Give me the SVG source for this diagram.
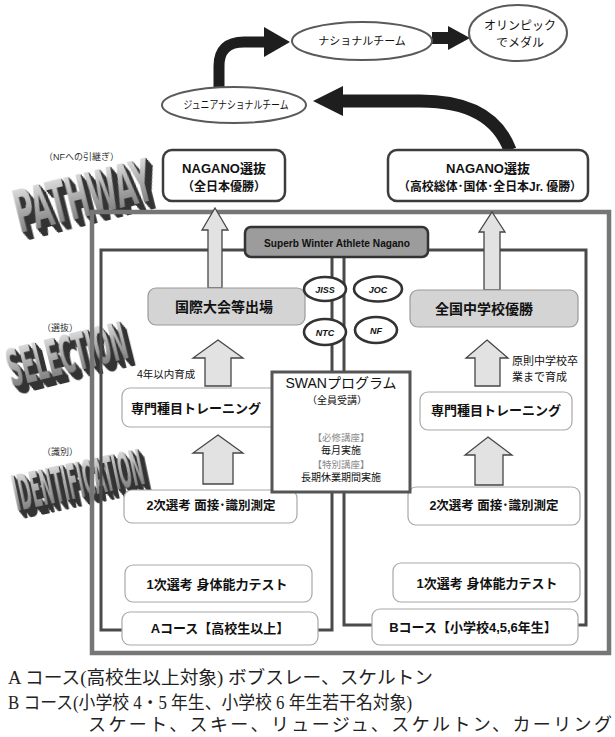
<svg xmlns="http://www.w3.org/2000/svg" width="615" height="737" viewBox="0 0 615 737">
<defs>
<style>
text{font-family:"Liberation Sans","Noto Sans CJK JP",sans-serif;fill:#111}
.c{text-anchor:middle}
.b{font-weight:bold}
.wbox{fill:#fff;stroke:#a8a8a8;stroke-width:1.2}
.gbox{fill:#d4d4d4;stroke:#9a9a9a;stroke-width:1.2}
.nbox{fill:#fff;stroke:#3c3c3c;stroke-width:2.5}
.barrow{fill:#e2e2e2;stroke:#454545;stroke-width:1.3}
.ell{fill:#fff;stroke:#5a5a5a;stroke-width:2}
.org{fill:#fff;stroke:#333;stroke-width:2.6}
.orgt{font-style:italic;font-weight:bold;font-size:9px;text-anchor:middle}
.flow{fill:none;stroke:#1e1e1e}
.frame{fill:none;stroke:#4a4a4a;stroke-width:3}
.wa{fill:url(#metal);filter:url(#extrude);font-family:"Liberation Sans Narrow","DejaVu Sans Condensed","Liberation Sans",sans-serif;font-weight:bold}
.note{font-family:"Liberation Serif","Noto Sans CJK JP",serif;font-size:18px;fill:#222}
.small{font-size:9px;fill:#333}
</style>
<linearGradient id="metal" x1="0" y1="0" x2="0" y2="1">
<stop offset="0" stop-color="#f2f2f2"/>
<stop offset="0.5" stop-color="#a8a8a8"/>
<stop offset="1" stop-color="#6a6a6a"/>
</linearGradient>
<filter id="extrude" x="-10%" y="-20%" width="130%" height="170%" color-interpolation-filters="sRGB">
<feOffset in="SourceAlpha" dx="0.5" dy="1" result="o1"/>
<feOffset in="SourceAlpha" dx="1" dy="2" result="o2"/>
<feOffset in="SourceAlpha" dx="1.5" dy="3" result="o3"/>
<feOffset in="SourceAlpha" dx="2" dy="4" result="o4"/>
<feOffset in="SourceAlpha" dx="2.5" dy="5" result="o5"/>
<feOffset in="SourceAlpha" dx="3" dy="6" result="o6"/>
<feOffset in="SourceAlpha" dx="3.5" dy="7" result="o7"/>
<feOffset in="SourceAlpha" dx="4" dy="8" result="o8"/>
<feOffset in="SourceAlpha" dx="4.5" dy="9" result="o9"/>
<feMerge result="m"><feMergeNode in="o1"/><feMergeNode in="o2"/><feMergeNode in="o3"/><feMergeNode in="o4"/><feMergeNode in="o5"/><feMergeNode in="o6"/><feMergeNode in="o7"/><feMergeNode in="o8"/><feMergeNode in="o9"/></feMerge>
<feFlood flood-color="#333"/>
<feComposite in2="m" operator="in" result="side"/>
<feMerge><feMergeNode in="side"/><feMergeNode in="SourceGraphic"/></feMerge>
</filter>
<marker id="h1" markerUnits="userSpaceOnUse" viewBox="0 0 26 30" markerWidth="26" markerHeight="30" refX="0" refY="15" orient="auto"><path d="M0,0 L26,15 L0,30z" fill="#1e1e1e"/></marker>
<marker id="h2" markerUnits="userSpaceOnUse" viewBox="0 0 22 24" markerWidth="22" markerHeight="24" refX="0" refY="12" orient="auto"><path d="M0,0 L22,12 L0,24z" fill="#1e1e1e"/></marker>
<marker id="h3" markerUnits="userSpaceOnUse" viewBox="0 0 30 30" markerWidth="30" markerHeight="30" refX="0" refY="15" orient="auto"><path d="M0,0 L30,15 L0,30z" fill="#1e1e1e"/></marker>
</defs>
<rect width="615" height="737" fill="#fff"/>

<!-- word art labels -->
<g id="label-pathway">
<text class="small" x="44" y="160">（NFへの引継ぎ）</text>
<text class="wa" font-size="58" textLength="140" lengthAdjust="spacingAndGlyphs" transform="translate(20,233) rotate(-14)">PATHWAY</text>
</g>
<g id="label-selection">
<text class="small" x="42" y="331">（選抜）</text>
<text class="wa" font-size="52" textLength="122" lengthAdjust="spacingAndGlyphs" transform="translate(12,387) rotate(-14)">SELECTION</text>
</g>
<g id="label-identification">
<text class="small" x="42" y="455">（識別）</text>
<text class="wa" font-size="50" textLength="132" lengthAdjust="spacingAndGlyphs" transform="translate(17,511) rotate(-12)">IDENTIFICATION</text>
</g>

<!-- frames -->
<g id="frames">
<rect x="92" y="212" width="517" height="441" fill="none" stroke="#767676" stroke-width="4.5"/>
<path class="frame" d="M245,250 H101 V630 H332 V257"/>
<path class="frame" d="M428,250 H586 V625 H344 V257"/>
</g>

<!-- connectors -->
<g id="connectors">
<path class="flow" stroke-width="11" d="M219,88 V66 Q219,42 244,42 H264" marker-end="url(#h1)"/>
<path class="flow" stroke-width="12" d="M432,38 H448" marker-end="url(#h2)"/>
<path class="flow" stroke-width="13" d="M510,150 C498,118 470,101 420,101 H343" marker-end="url(#h3)"/>
<polygon class="barrow" points="215,208 228,230 222,230 222,288 208,288 208,230 202,230"/>
<polygon class="barrow" points="492,212 505,232 500,232 500,290 484,290 484,232 479,232"/>
<polygon class="barrow" points="218,340 243,358 231,358 231,386 205,386 205,358 193,358"/>
<polygon class="barrow" points="218,435 243,453 233,453 233,484 203,484 203,453 193,453"/>
<polygon class="barrow" points="487,340 508,358 500,358 500,386 475,386 475,358 466,358"/>
<polygon class="barrow" points="488,437 512,455 503,455 503,485 475,485 475,455 465,455"/>
</g>

<!-- top ellipses -->
<g id="node-national"><ellipse class="ell" cx="362" cy="41" rx="70" ry="19"/><text class="c" x="362" y="45" font-size="11">ナショナルチーム</text></g>
<g id="node-olympic"><ellipse class="ell" cx="518" cy="33" rx="49" ry="28"/><text class="c" x="520" y="30" font-size="12">オリンピック</text><text class="c" x="520" y="47" font-size="12">でメダル</text></g>
<g id="node-junior"><ellipse class="ell" cx="234" cy="105" rx="72" ry="18"/><text class="c" x="236" y="109" font-size="11" textLength="105" lengthAdjust="spacingAndGlyphs">ジュニアナショナルチーム</text></g>

<!-- NAGANO boxes -->
<g id="node-nagano-a"><rect class="nbox" x="163" y="150" width="122" height="51" rx="9"/><text class="c b" x="224" y="173" font-size="13">NAGANO選抜</text><text class="c b" x="224" y="191" font-size="12">（全日本優勝）</text></g>
<g id="node-nagano-b"><rect class="nbox" x="388" y="150" width="200" height="51" rx="9"/><text class="c b" x="488" y="173" font-size="13">NAGANO選抜</text><text class="c b" x="490" y="191" font-size="12" textLength="184" lengthAdjust="spacingAndGlyphs">（高校総体･国体･全日本Jr. 優勝）</text></g>

<!-- course A -->
<g id="node-a-intl"><rect class="gbox" x="148" y="288" width="157" height="37" rx="8"/><text class="c b" x="224" y="312" font-size="14">国際大会等出場</text></g>
<g id="node-a-training"><rect class="wbox" x="122" y="388" width="163" height="39" rx="8"/><text class="c b" x="196" y="413" font-size="13">専門種目トレーニング</text></g>
<g id="node-a-second"><rect class="wbox" x="124" y="490" width="173" height="33" rx="8"/><text class="c b" x="211" y="510" font-size="12.5">2次選考 面接･識別測定</text></g>
<g id="node-a-first"><rect class="wbox" x="125" y="565" width="187" height="37" rx="8"/><text class="c b" x="217" y="589" font-size="13">1次選考 身体能力テスト</text></g>
<g id="node-a-course"><rect class="wbox" x="122" y="612" width="196" height="33" rx="8"/><text class="c b" x="220" y="633" font-size="13">Aコース【高校生以上】</text></g>
<text x="137" y="378" font-size="10.5">4年以内育成</text>

<!-- course B -->
<g id="node-b-national"><rect class="gbox" x="410" y="290" width="168" height="37" rx="8"/><text class="c b" x="484" y="314" font-size="14">全国中学校優勝</text></g>
<g id="node-b-training"><rect class="wbox" x="420" y="392" width="152" height="38" rx="8"/><text class="c b" x="496" y="415" font-size="13">専門種目トレーニング</text></g>
<g id="node-b-second"><rect class="wbox" x="408" y="487" width="172" height="38" rx="8"/><text class="c b" x="494" y="510" font-size="12.5">2次選考 面接･識別測定</text></g>
<g id="node-b-first"><rect class="wbox" x="393" y="563" width="187" height="39" rx="8"/><text class="c b" x="487" y="588" font-size="13">1次選考 身体能力テスト</text></g>
<g id="node-b-course"><rect class="wbox" x="372" y="609" width="206" height="36" rx="8"/><text class="c b" x="473" y="632" font-size="13">Bコース【小学校4,5,6年生】</text></g>
<text x="512" y="365" font-size="11">原則中学校卒</text>
<text x="512" y="381" font-size="11">業まで育成</text>

<!-- center -->
<g id="node-swan"><rect x="272" y="372" width="138" height="120" fill="#fff" stroke="#555" stroke-width="3"/>
<text class="c" x="341" y="388" font-size="14" fill="#222">SWANプログラム</text>
<text class="c" x="337" y="404" font-size="10">（全員受講）</text>
<text class="c" x="341" y="441" font-size="9.5" style="fill:#888">【必修講座】</text>
<text class="c" x="341" y="454" font-size="10">毎月実施</text>
<text class="c" x="341" y="468" font-size="9.5" style="fill:#888">【特別講座】</text>
<text class="c" x="341" y="481" font-size="10">長期休業期間実施</text>
</g>
<g id="node-jiss"><ellipse class="org" cx="325" cy="289" rx="21" ry="12"/><text class="orgt" x="325" y="292.5">JISS</text></g>
<g id="node-joc"><ellipse class="org" cx="378" cy="289" rx="24" ry="12.5"/><text class="orgt" x="378" y="292.5">JOC</text></g>
<g id="node-ntc"><ellipse class="org" cx="325" cy="332" rx="21" ry="13"/><text class="orgt" x="325" y="335.5">NTC</text></g>
<g id="node-nf"><ellipse class="org" cx="376" cy="330" rx="21" ry="13"/><text class="orgt" x="376" y="333.5">NF</text></g>
<g id="node-swan-header"><rect x="245" y="227" width="183" height="30" rx="6" fill="#9c9c9c" stroke="#333" stroke-width="2.5"/><text class="c b" x="337" y="246.5" font-size="11.5" textLength="146" lengthAdjust="spacingAndGlyphs">Superb Winter Athlete Nagano</text></g>

<!-- notes -->
<g id="notes">
<text class="note" x="8" y="684" textLength="425" lengthAdjust="spacingAndGlyphs">A コース(高校生以上対象) ボブスレー、スケルトン</text>
<text class="note" x="8" y="709" textLength="404" lengthAdjust="spacingAndGlyphs">B コース(小学校 4・5 年生、小学校 6 年生若干名対象)</text>
<text class="note" x="88" y="731" textLength="524" lengthAdjust="spacing">スケート、スキー、リュージュ、スケルトン、カーリング</text>
</g>
</svg>
